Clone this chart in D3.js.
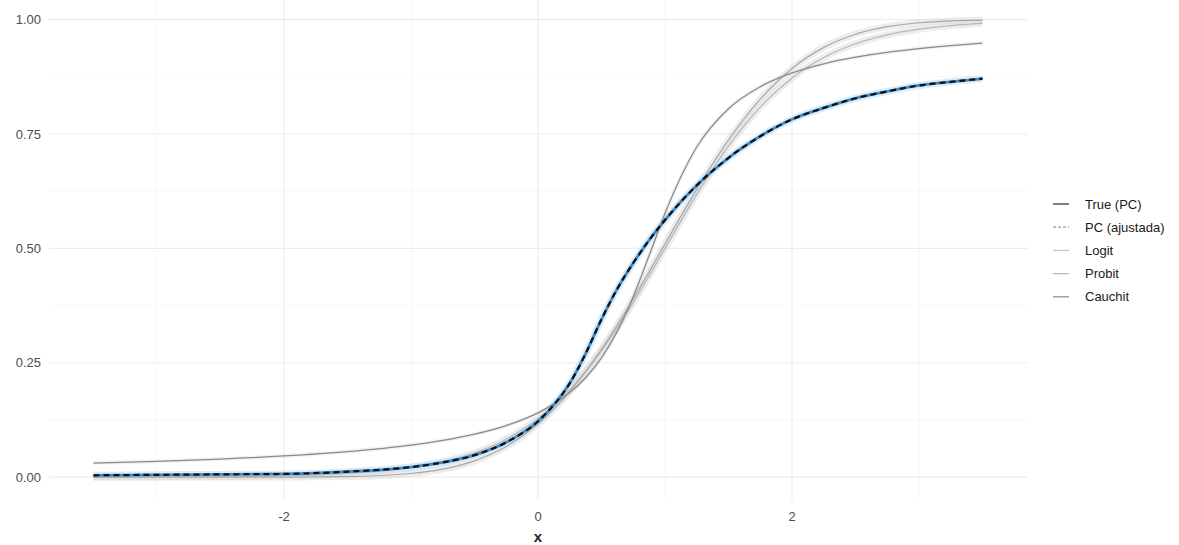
<!DOCTYPE html>
<html>
<head>
<meta charset="utf-8">
<script src="https://cdn.jsdelivr.net/npm/d3@7"></script>
<style>
  html, body { margin: 0; padding: 0; background: #ffffff; }
  svg { display: block; }
  text { font-family: "Liberation Sans", Arial, sans-serif; }
</style>
</head>
<body>
<svg id="chart" width="1179" height="545"></svg>
<script>
// ---- data ----
const xs = [-3.5, -3, -2.5, -2, -1.5, -1, -0.75, -0.5, -0.25, 0, 0.125, 0.25, 0.375, 0.5, 0.625, 0.75, 0.875, 1, 1.25, 1.5, 1.75, 2, 2.25, 2.5, 2.75, 3, 3.25, 3.5];
const truePC   = [0.004, 0.005, 0.006, 0.007, 0.012, 0.022, 0.032, 0.048, 0.076, 0.122, 0.158, 0.205, 0.270, 0.345, 0.412, 0.468, 0.518, 0.562, 0.638, 0.698, 0.745, 0.782, 0.807, 0.828, 0.843, 0.856, 0.864, 0.871];
const pcAjust  = [0.004, 0.005, 0.006, 0.007, 0.012, 0.022, 0.032, 0.048, 0.076, 0.122, 0.158, 0.205, 0.270, 0.345, 0.412, 0.468, 0.518, 0.562, 0.638, 0.698, 0.745, 0.782, 0.807, 0.828, 0.843, 0.856, 0.864, 0.871];
const logitY   = [0.0002, 0.0005, 0.0012, 0.0031, 0.0081, 0.0209, 0.0334, 0.0529, 0.0829, 0.1275, 0.1567, 0.1912, 0.2311, 0.2765, 0.3272, 0.382, 0.4402, 0.500, 0.618, 0.7235, 0.8088, 0.8725, 0.9171, 0.9471, 0.9666, 0.9791, 0.9870, 0.9919];
const probitY  = [0.0000, 0.0000, 0.0000, 0.0001, 0.0012, 0.0079, 0.0174, 0.0355, 0.0668, 0.116, 0.1485, 0.1867, 0.2303, 0.2793, 0.3325, 0.3897, 0.449, 0.5097, 0.629, 0.737, 0.826, 0.8933, 0.9393, 0.9681, 0.9846, 0.9931, 0.9972, 0.9989];
const cauchitY = [0.0306, 0.0345, 0.0395, 0.0463, 0.0558, 0.0700, 0.0802, 0.0939, 0.1128, 0.1406, 0.160, 0.1847, 0.2173, 0.2608, 0.319, 0.3945, 0.4842, 0.5766, 0.7215, 0.8052, 0.8532, 0.8834, 0.9034, 0.9178, 0.9284, 0.9367, 0.9433, 0.9486];
const xTicks = [-2, 0, 2];
const xMinorTicks = [-3, -1, 1, 3];
const yTicks = [0, 0.25, 0.5, 0.75, 1];
const yMinorTicks = [0.125, 0.375, 0.625, 0.875];
const legendLabels = ["True (PC)", "PC (ajustada)", "Logit", "Probit", "Cauchit"];

// ---- layout ----
const svg = d3.select("#chart");
const panel = { left: 49, right: 1027, top: -3, bottom: 500 };
const x = d3.scaleLinear().domain([-3.85, 3.85]).range([panel.left, panel.right]);
const y = d3.scaleLinear().domain([-0.05, 1.0494]).range([panel.bottom, panel.top]);

// grid
const g = svg.append("g");
g.selectAll(".vminor").data(xMinorTicks).enter().append("line")
  .attr("x1", d => x(d)).attr("x2", d => x(d)).attr("y1", 0).attr("y2", panel.bottom)
  .attr("stroke", "#f4f4f4").attr("stroke-width", 0.6);
g.selectAll(".hminor").data(yMinorTicks).enter().append("line")
  .attr("x1", panel.left).attr("x2", panel.right).attr("y1", d => y(d)).attr("y2", d => y(d))
  .attr("stroke", "#f4f4f4").attr("stroke-width", 0.6);
g.selectAll(".vmajor").data(xTicks).enter().append("line")
  .attr("x1", d => x(d)).attr("x2", d => x(d)).attr("y1", 0).attr("y2", panel.bottom)
  .attr("stroke", "#ececec").attr("stroke-width", 1.1);
g.selectAll(".hmajor").data(yTicks).enter().append("line")
  .attr("x1", panel.left).attr("x2", panel.right).attr("y1", d => y(d)).attr("y2", d => y(d))
  .attr("stroke", "#ececec").attr("stroke-width", 1.1);

// axes text
svg.append("g").selectAll("text").data(yTicks).enter().append("text")
  .attr("x", 41).attr("y", d => y(d)).attr("dy", "0.36em")
  .attr("text-anchor", "end").attr("font-size", 13).attr("fill", "#4d4d4d")
  .text(d => d3.format(".2f")(d));
svg.append("g").selectAll("text").data(xTicks).enter().append("text")
  .attr("x", d => x(d)).attr("y", 516).attr("dy", "0.36em")
  .attr("text-anchor", "middle").attr("font-size", 13).attr("fill", "#4d4d4d")
  .text(d => String(d));
svg.append("text").attr("x", x(0)).attr("y", 537).attr("dy", "0.36em")
  .attr("text-anchor", "middle").attr("font-size", 15).attr("font-weight", "bold").attr("fill", "#222")
  .text("x");

// curves
const mk = arr => xs.map((v, i) => [v, arr[i]]);
const line = d3.line().x(d => x(d[0])).y(d => y(d[1])).curve(d3.curveMonotoneX);
const cg = svg.append("g").attr("fill", "none").attr("stroke-linecap", "butt");

// soft bands
[logitY, probitY].forEach(arr => {
  cg.append("path").attr("d", line(mk(arr))).attr("stroke", "#d6d6d6").attr("stroke-width", 7).attr("stroke-opacity", 0.45);
});
cg.append("path").attr("d", line(mk(cauchitY))).attr("stroke", "#dedede").attr("stroke-width", 4).attr("stroke-opacity", 0.4);
cg.append("path").attr("d", line(mk(truePC))).attr("stroke", "#cfe2f2").attr("stroke-width", 7).attr("stroke-opacity", 0.7);

cg.append("path").attr("d", line(mk(logitY))).attr("stroke", "#b8b8b8").attr("stroke-width", 1.2);
cg.append("path").attr("d", line(mk(probitY))).attr("stroke", "#a8a8a8").attr("stroke-width", 1.2);
cg.append("path").attr("d", line(mk(cauchitY))).attr("stroke", "#8a8a8a").attr("stroke-width", 1.3);
cg.append("path").attr("d", line(mk(truePC))).attr("stroke", "#3a8ccd").attr("stroke-width", 2.8);
cg.append("path").attr("d", line(mk(pcAjust))).attr("stroke", "#111").attr("stroke-width", 2.2).attr("stroke-dasharray", "6,4");

// legend
const legendStyles = [
  { stroke: "#4a4a4a", w: 1.4, dash: null },
  { stroke: "#9a9a9a", w: 1.2, dash: "3,2" },
  { stroke: "#c4c4c4", w: 1.2, dash: null },
  { stroke: "#b4b4b4", w: 1.2, dash: null },
  { stroke: "#8a8a8a", w: 1.2, dash: null }
];
const lg = svg.append("g");
legendLabels.forEach((lab, i) => {
  const cy = 204 + i * 23.2;
  const s = legendStyles[i];
  lg.append("line").attr("x1", 1053).attr("x2", 1069).attr("y1", cy).attr("y2", cy)
    .attr("stroke", s.stroke).attr("stroke-width", s.w).attr("stroke-dasharray", s.dash);
  lg.append("text").attr("x", 1085).attr("y", cy).attr("dy", "0.36em")
    .attr("font-size", 13).attr("fill", "#1a1a1a").text(lab);
});
</script>
</body>
</html>
